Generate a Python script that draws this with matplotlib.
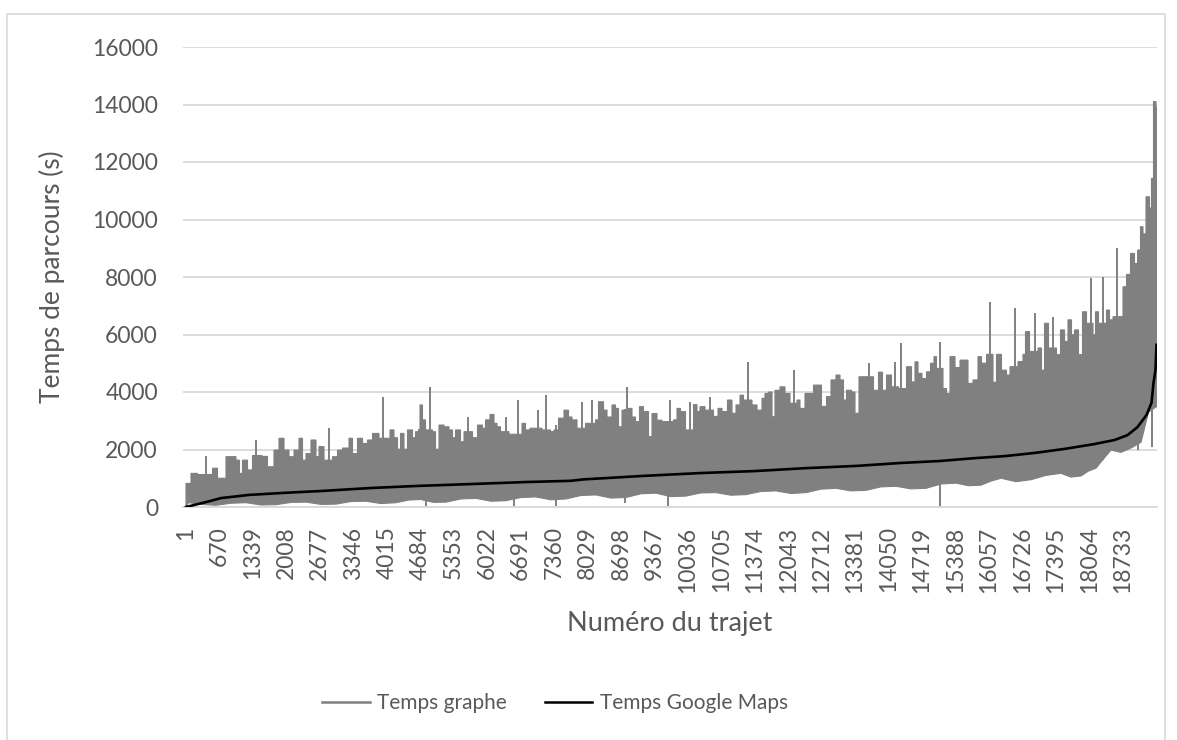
import numpy as np
import matplotlib
matplotlib.use("Agg")
from matplotlib import pyplot as plt
from matplotlib.lines import Line2D
from matplotlib.patches import Rectangle

# Temps graphe : bord haut de la bande grise
trajets_haut = [0, 100, 230, 530, 630, 800, 1000, 1070, 1130, 1230, 1330, 1520, 1630, 1760, 1860,
                1960, 2060, 2160, 2260, 2330, 2400, 2500, 2600, 2660, 2760, 2930, 3030, 3130, 3260,
                3330, 3430, 3530, 3630, 3730, 3860, 3990, 4080, 4160, 4230, 4290, 4360, 4430, 4530,
                4590, 4650, 4680, 4730, 4790, 4930, 4990, 5060, 5160, 5260, 5330, 5390, 5490, 5560,
                5730, 5830, 5930, 5990, 6080, 6160, 6220, 6290, 6460, 6560, 6720, 6790, 6880, 6960,
                7120, 7290, 7360, 7450, 7560, 7650, 7720, 7820, 7990, 8190, 8250, 8350, 8420, 8520,
                8590, 8650, 8720, 8850, 8920, 8990, 9070, 9150, 9250, 9320, 9420, 9520, 9590, 9750,
                9820, 9890, 9990, 10150, 10220, 10280, 10380, 10550, 10640, 10720, 10830, 10920,
                11000, 11080, 11150, 11320, 11420, 11520, 11580, 11650, 11720, 11780, 11880, 11980,
                12080, 12220, 12280, 12380, 12480, 12550, 12630, 12710, 12810, 12900, 13000, 13080,
                13150, 13210, 13310, 13380, 13460, 13550, 13750, 13850, 13930, 14010, 14110, 14250,
                14410, 14510, 14580, 14640, 14720, 14810, 14890, 14960, 15010, 15140, 15210, 15280,
                15380, 15480, 15580, 15640, 15740, 15840, 15910, 16010, 16140, 16210, 16310, 16410,
                16480, 16640, 16740, 16790, 16870, 17040, 17110, 17170, 17250, 17410, 17490, 17570,
                17640, 17710, 17770, 17850, 17930, 18010, 18140, 18190, 18250, 18410, 18470, 18540,
                18670, 18740, 18810, 18890, 18970, 19040, 19090, 19140, 19200, 19270, 19310, 19340,
                19350, 19400, 19410]
temps_haut = [820, 1170, 1130, 1350, 1000, 1750, 1630, 1170, 1630, 1290, 1790, 1760, 1400, 1980, 2390,
              1980, 1750, 1980, 2390, 1630, 1860, 2330, 1750, 2100, 1630, 1750, 1980, 2050, 2390,
              1860, 2390, 2210, 2330, 2560, 2390, 2390, 2680, 2410, 2010, 2560, 2010, 2680, 2410,
              2620, 2700, 3550, 3030, 2680, 2620, 2010, 2850, 2790, 2680, 2410, 2680, 2270, 2620,
              2410, 2850, 2740, 3030, 3220, 2910, 2790, 2620, 2530, 2530, 2910, 2680, 2740, 2740,
              2680, 2620, 2680, 3090, 3370, 3130, 3030, 2740, 2910, 3030, 3660, 3370, 3130, 3550,
              3430, 2790, 3370, 3430, 3130, 2970, 3490, 3320, 2450, 3250, 3020, 2970, 2970, 3030,
              3430, 3320, 2680, 3560, 3320, 3490, 3370, 3150, 3430, 3320, 3720, 3260,
              3550, 3890, 3720, 3550, 3370, 3780, 3950, 4000, 3140, 4060, 4180, 3950,
              3610, 3720, 3430, 3950, 3950, 4240, 4240, 3500, 3840, 4420, 4590, 4420,
              3720, 4060, 4000, 3260, 4530, 4530, 4060, 4690, 4060, 4590, 4180, 4120,
              4880, 4350, 5050, 4650, 4470, 4700, 5000, 5230, 4820, 4120, 3950, 5230,
              4850, 5110, 5110, 4300, 4420, 5230, 5000, 5310, 4340, 5310, 4760, 4590,
              4880, 5060, 5310, 6100, 5410, 5530, 4760, 6390, 5530, 5300, 6160, 5760,
              6510, 5990, 6160, 5300, 6790, 6390, 5990, 6790, 6390, 6850, 6510, 6620,
              6620, 7660, 8090, 8820, 8470, 8940, 9750, 9500, 10790, 10400, 11430, 11000,
              14100, 13900, 8880]

# Temps graphe : bord bas de la bande grise
trajets_bas = [0, 50, 300, 600, 900, 1200, 1500, 1800, 2100, 2400, 2700, 3000, 3300, 3600, 3900,
               4200, 4450, 4700, 4950, 5200, 5500, 5800, 6100, 6400, 6700, 7000, 7300, 7600, 7900,
               8200, 8500, 8800, 9100, 9400, 9700, 10000, 10300, 10600, 10900, 11200, 11500,
               11800, 12100, 12400, 12700, 13000, 13300, 13600, 13900, 14200, 14500, 14800, 15100,
               15400, 15650, 15900, 16100, 16300, 16600, 16900, 17200, 17500, 17700, 17900, 18050,
               18200, 18330, 18500, 18700, 18900, 19100, 19250, 19410]
temps_bas = [0, 150, 90, 60, 130, 150, 70, 80, 160, 170, 90, 100, 190, 200, 120,
             150, 240, 260, 160, 170, 280, 300, 200, 220, 330, 350, 250, 280, 400,
             420, 310, 330, 460, 480, 360, 380, 490, 500, 410, 430, 540,
             560, 470, 500, 620, 650, 560, 580, 700, 720, 630, 650, 800,
             830, 740, 760, 900, 1000, 880, 950, 1100, 1170, 1040, 1080, 1250,
             1350, 1630, 1980, 1900, 2050, 2250, 3300, 3490]

# Temps graphe : pics isolés vers le haut et vers le bas
pics_trajet = [390, 1400, 2860, 3930, 4880, 5640, 6390, 6640, 7040, 7200, 7910, 8110, 8810, 9670,
               10070, 10480, 11230, 12150, 13650, 14180, 14310, 15080, 16080, 16580, 16970, 17330,
               18090, 18340, 18610]
pics_temps = [1770, 2330, 2740, 3840, 4180, 3120, 3120, 3720, 3370, 3900, 3660, 3720, 4180, 3720,
              3660, 3840, 5050, 4760, 5000, 5050, 5690, 5750, 7140, 6910, 6740, 6620,
              7950, 8010, 9000]
creux_trajet = [4800, 6560, 7400, 8780, 9640, 15080, 19040, 19310]
creux_temps = [0, 0, 20, 140, 20, 10, 1980, 2100]

# Temps Google Maps
trajets_gm = [1, 400, 700, 1260, 1940, 2740, 3690, 4590, 5730, 6830, 7690, 7950, 9130, 10280,
              11380, 12380, 13420, 14280, 15080, 15780, 16380, 16970, 17570, 18170, 18570, 18830,
              19030, 19210, 19310, 19350, 19390, 19410]
temps_gm = [0, 170, 310, 420, 490, 560, 660, 730, 800, 870, 910, 960, 1080, 1180,
            1250, 1350, 1430, 1530, 1600, 1700, 1770, 1880, 2020, 2190, 2330, 2500,
            2780, 3200, 3620, 4310, 4770, 5640]

etiquettes_x = [1, 670, 1339, 2008, 2677, 3346, 4015, 4684, 5353, 6022, 6691, 7360, 8029, 8698,
                9367, 10036, 10705, 11374, 12043, 12712, 13381, 14050, 14719, 15388, 16057, 16726,
                17395, 18064, 18733]

GRIS = '#808080'
TEXTE = '#595959'
GRILLE = '#d9d9d9'

plt.rcParams['font.family'] = ['Lato', 'DejaVu Sans']

fig = plt.figure(figsize=(11.77, 7.40), dpi=100)
fig.patches.append(Rectangle((7 / 1177, -0.01), 1158 / 1177, 1 - 14 / 740 + 0.01,
                             transform=fig.transFigure, fill=False, edgecolor=GRILLE, lw=1.2))
ax = fig.add_axes([183 / 1177, 1 - 507 / 740, 974 / 1177, 460 / 740])

# bande grise : haut en marches, bas en ligne brisee
hx = np.repeat(trajets_haut, 2)[1:]
hy = np.repeat(temps_haut, 2)[:-1]
poly_x = np.concatenate([hx, np.array(trajets_bas)[::-1]])
poly_y = np.concatenate([hy, np.array(temps_bas)[::-1]])
ax.fill(poly_x, poly_y, facecolor=GRIS, edgecolor=GRIS, lw=0.8, zorder=2)
base_pics = np.interp(pics_trajet, trajets_bas, temps_bas)
ax.vlines(pics_trajet, base_pics, pics_temps, color=GRIS, lw=1.4, zorder=2)
haut_creux = np.interp(creux_trajet, trajets_haut, temps_haut)
ax.vlines(creux_trajet, creux_temps, haut_creux, color=GRIS, lw=1.4, zorder=2)

ax.plot(trajets_gm, temps_gm, color='black', lw=1.9, zorder=3)

ax.set_xlim(-60, 19420)
ax.set_ylim(0, 16000)
ax.set_yticks(range(0, 16001, 2000))
ax.set_xticks(etiquettes_x)
ax.set_xticklabels([str(v) for v in etiquettes_x], rotation=90)
ax.grid(axis='y', color=GRILLE, lw=1.3, zorder=0)
ax.set_axisbelow(True)
for s in ['top', 'right', 'left']:
    ax.spines[s].set_visible(False)
ax.spines['bottom'].set_color(GRILLE)
ax.spines['bottom'].set_linewidth(1.3)
ax.tick_params(axis='y', length=0, pad=18, labelsize=16.5, labelcolor=TEXTE)
ax.tick_params(axis='x', length=0, pad=14, labelsize=16.5, labelcolor=TEXTE)

ax.set_ylabel('Temps de parcours (s)', fontsize=19, color=TEXTE)
ax.yaxis.set_label_coords(-0.121, 0.5)
ax.set_xlabel('Numéro du trajet', fontsize=19.5, color=TEXTE)
ax.xaxis.set_label_coords(0.5, -0.225)

poignees = [Line2D([0], [0], color=GRIS, lw=1.8), Line2D([0], [0], color='black', lw=1.8)]
fig.legend(poignees, ['Temps graphe', 'Temps Google Maps'], loc='center',
           bbox_to_anchor=(555 / 1177, 1 - 703 / 740), ncol=2, frameon=False,
           fontsize=15, labelcolor=TEXTE, handlelength=2.3, handletextpad=0.35,
           columnspacing=1.8)

fig.savefig('out.png', dpi=100)
